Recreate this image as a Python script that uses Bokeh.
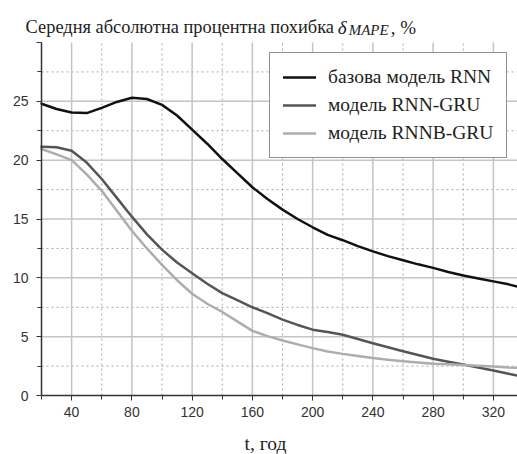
from bokeh.plotting import figure
from bokeh.models import FixedTicker, Legend, LegendItem
from bokeh.core.properties import value
from bokeh.embed import file_html
from bokeh.resources import INLINE

t = [20, 30, 40, 50, 60, 70, 80, 90, 100, 110, 120, 130, 140, 150, 160, 170, 180,
     190, 200, 210, 220, 230, 240, 250, 260, 270, 280, 290, 300, 310, 320, 330, 336]

rnn = [24.8, 24.35, 24.05, 24.0, 24.45, 24.95, 25.3, 25.2, 24.7, 23.8, 22.6, 21.4, 20.1,
       18.9, 17.7, 16.7, 15.8, 15.0, 14.3, 13.65, 13.2, 12.7, 12.25, 11.85, 11.5, 11.15,
       10.85, 10.5, 10.2, 9.95, 9.7, 9.45, 9.25]

rnn_gru = [21.15, 21.1, 20.8, 19.8, 18.4, 16.8, 15.2, 13.7, 12.4, 11.3, 10.4, 9.5, 8.7,
           8.1, 7.5, 7.0, 6.45, 6.0, 5.6, 5.4, 5.16, 4.8, 4.45, 4.1, 3.77, 3.45, 3.12,
           2.88, 2.64, 2.38, 2.13, 1.85, 1.7]

rnnb_gru = [20.95, 20.5, 20.0, 18.8, 17.4, 15.7, 14.0, 12.5, 11.1, 9.8, 8.65, 7.8, 7.1,
            6.3, 5.5, 5.05, 4.68, 4.35, 4.03, 3.75, 3.54, 3.37, 3.2, 3.05, 2.92, 2.8,
            2.7, 2.65, 2.6, 2.53, 2.46, 2.38, 2.35]

names = ["базова модель RNN", "модель RNN-GRU", "модель RNNB-GRU"]
title_main = "Середня абсолютна процентна похибка"
title_sym = "δ"
title_sub = "MAPE"
title_end = ", %"
x_label = "t, год"
x_major = [40, 80, 120, 160, 200, 240, 280, 320]
x_minor = [20, 60, 100, 140, 180, 220, 260, 300]
y_major = [0, 5, 10, 15, 20, 25, 30]
y_minor = [2.5, 7.5, 12.5, 17.5, 22.5, 27.5]
X0, X1 = 20, 336
Y0, Y1 = 0, 30

SERIF = "Liberation Serif"
SANS = "Liberation Sans"
TXT = "#222222"

# frame covers the whole canvas; axes are placed at fixed data locations
p = figure(frame_width=517, frame_height=454, x_range=(-7.22, 336.0), y_range=(-5.01, 33.57),
           output_backend="svg", toolbar_location=None, min_border=0)
p.outline_line_color = None
p.background_fill_color = "white"
p.grid.visible = False

# grid (drawn from the tick arrays, bounded to the data area)
minor_style = dict(line_color="#a8a8a8", line_width=1, line_dash="2 3")
major_style = dict(line_color="#c4c4c4", line_width=1.5)
xm = x_minor[1:]
p.segment(x0=xm, y0=[Y0] * len(xm), x1=xm, y1=[Y1] * len(xm), **minor_style)
p.segment(x0=[X0] * len(y_minor), y0=y_minor, x1=[X1] * len(y_minor), y1=y_minor, **minor_style)
p.segment(x0=x_major, y0=[Y0] * len(x_major), x1=x_major, y1=[Y1] * len(x_major), **major_style)
ym = y_major[1:-1]
p.segment(x0=[X0] * len(ym), y0=ym, x1=[X1] * len(ym), y1=ym, **major_style)

colors = ["#111111", "#555555", "#adadad"]
series = [rnn, rnn_gru, rnnb_gru]
renderers = []
for ys, c in zip(series, colors):
    r = p.line(t, ys, line_color=c, line_width=2.5, line_join="round", line_cap="round")
    renderers.append(r)

p.xaxis.ticker = FixedTicker(ticks=x_major, minor_ticks=x_minor)
p.yaxis.ticker = FixedTicker(ticks=y_major, minor_ticks=y_minor)
p.xaxis.fixed_location = Y0
p.yaxis.fixed_location = X0
p.xaxis.bounds = (X0, X1)
p.yaxis.bounds = (Y0, Y1)
p.yaxis.major_label_overrides = {30: ""}

for ax in (p.xaxis[0], p.yaxis[0]):
    ax.axis_line_color = "#333333"
    ax.axis_line_width = 1.5
    ax.major_tick_line_color = "#333333"
    ax.minor_tick_line_color = "#333333"
    ax.major_tick_out = 5
    ax.major_tick_in = 0
    ax.minor_tick_out = 4
    ax.minor_tick_in = 0
    ax.major_label_text_font = SANS
    ax.major_label_text_font_size = "14px"
    ax.major_label_text_color = "#333333"

p.yaxis.major_label_standoff = 8
p.xaxis.major_label_standoff = 6

# title and axis label
p.text(x=[9.4], y=[31.3], text=[title_main], text_font=value(SERIF), text_font_size="18.4px",
       text_color=TXT, text_baseline="alphabetic")
p.text(x=[216.6], y=[31.3], text=[title_sym], text_font=value(SERIF), text_font_size="19px",
       text_font_style="italic", text_color=TXT, text_baseline="alphabetic")
p.text(x=[223.9], y=[31.1], text=[title_sub], text_font=value(SERIF), text_font_size="15px",
       text_font_style="italic", text_color=TXT, text_baseline="alphabetic")
p.text(x=[251.8], y=[31.3], text=[title_end], text_font=value(SERIF), text_font_size="19px",
       text_color=TXT, text_baseline="alphabetic")
p.text(x=[168.7], y=[-4.08], text=[x_label], text_font=value(SERIF), text_font_size="19.5px",
       text_color=TXT, text_baseline="middle", text_align="center")

legend = Legend(items=[LegendItem(label=n, renderers=[r]) for n, r in zip(names, renderers)],
                location=(269, 296))
legend.border_line_color = "#222222"
legend.border_line_width = 1.5
legend.background_fill_color = "white"
legend.background_fill_alpha = 1
legend.padding = 13
legend.spacing = 6
legend.margin = 0
legend.glyph_width = 33
legend.glyph_height = 20
legend.label_height = 20
legend.label_standoff = 12
legend.label_text_font = SERIF
legend.label_text_font_size = "19.5px"
legend.label_text_color = TXT
p.add_layout(legend, "center")

open("out.html", "w").write(file_html(p, INLINE))
